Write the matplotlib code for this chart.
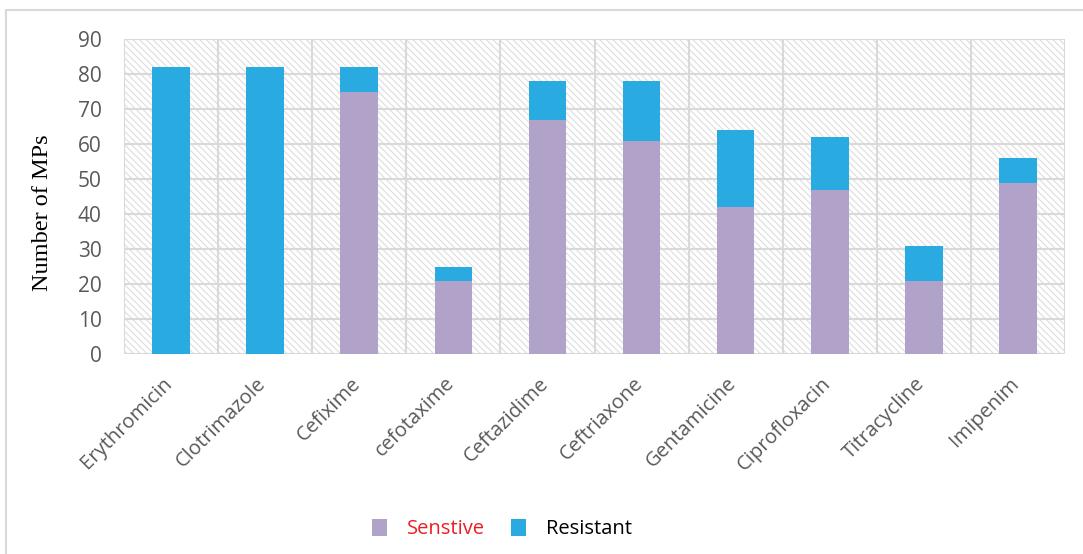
import matplotlib.pyplot as plt
from matplotlib.patches import Rectangle
from matplotlib.transforms import ScaledTranslation
import matplotlib as mpl

categories = ["Erythromicin", "Clotrimazole", "Cefixime", "cefotaxime", "Ceftazidime",
              "Ceftriaxone", "Gentamicine", "Ciprofloxacin", "Titracycline", "Imipenim"]
sensitive = [0, 0, 75, 21, 67, 61, 42, 47, 21, 49]
resistant = [82, 82, 7, 4, 11, 17, 22, 15, 10, 7]
yticks = [0, 10, 20, 30, 40, 50, 60, 70, 80, 90]

purple = "#B0A2C8"
blue = "#29ABE2"
grid_c = "#D9D9D9"
tick_c = "#595959"

mpl.rcParams['hatch.linewidth'] = 0.9
mpl.rcParams['hatch.color'] = "#E0E0E0"

fig = plt.figure(figsize=(10.83, 5.54), dpi=100)
fig.patch.set_facecolor("white")
# outer frame of the chart area (runs past the right and bottom edges)
fig.add_artist(Rectangle((6 / 1083, -10 / 554), 1100 / 1083, 554 / 554, transform=fig.transFigure,
                         fill=False, edgecolor="#D9D9D9", linewidth=1.5))

ax = fig.add_axes([124 / 1083, 1 - 354 / 554, 941 / 1083, 315 / 554])
x = list(range(len(categories)))

# hatched plot background
ax.add_patch(Rectangle((0, 0), 1, 1, transform=ax.transAxes, facecolor="white",
                       edgecolor="#E0E0E0", hatch="\\\\\\\\\\", linewidth=0, zorder=0))

ax.bar(x, sensitive, width=0.4, color=purple, label="Senstive", zorder=3)
ax.bar(x, resistant, width=0.4, bottom=sensitive, color=blue, label="Resistant", zorder=3)

ax.set_xlim(-0.5, len(categories) - 0.5)
ax.set_ylim(0, 90)
ax.set_yticks(yticks)
for v in yticks:
    ax.axhline(v, color=grid_c, linewidth=1.5, zorder=1)
for b in range(len(categories) + 1):
    ax.axvline(b - 0.5, color=grid_c, linewidth=1.5, zorder=1)

for s in ax.spines.values():
    s.set_visible(False)
ax.tick_params(axis="both", length=0, colors=tick_c, labelsize=15)
ax.tick_params(axis="y", pad=16)
ax.tick_params(axis="x", pad=14)
ax.set_xticks(x)
ax.set_xticklabels(categories, rotation=45, ha="right", rotation_mode="anchor",
                   fontfamily="Open Sans", fontsize=14.5, color=tick_c)
# nudge the slanted category labels to the left
shift = ScaledTranslation(-9 / 100, 0, fig.dpi_scale_trans)
for lab in ax.get_xticklabels():
    lab.set_transform(lab.get_transform() + shift)
for lab in ax.get_yticklabels():
    lab.set_fontfamily("Open Sans")

ax.set_ylabel("Number of MPs", fontfamily="Liberation Serif", fontsize=17.5, color="black")
ax.yaxis.set_label_coords(-0.075, 0.45)

leg = fig.legend(loc="center", bbox_to_anchor=(502 / 1083, 1 - 529 / 554), ncol=2, frameon=False,
                 prop={"family": "Open Sans", "size": 14.5}, handlelength=0.75, handleheight=0.9,
                 columnspacing=1.3, handletextpad=1.0)
leg.get_texts()[0].set_color("#ED1C24")
leg.get_texts()[1].set_color("black")

fig.savefig("out.png", dpi=100)
